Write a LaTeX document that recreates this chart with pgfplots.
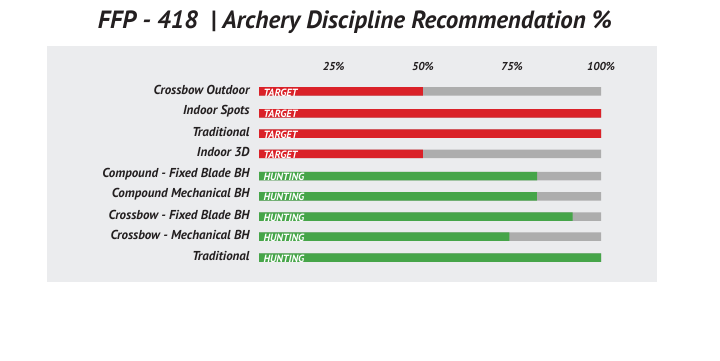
\documentclass[border=0pt]{standalone}
\usepackage{fontspec}
\setmainfont{PT Sans}
\usepackage{pgfplots}
\pgfplotsset{compat=1.18}
\definecolor{panel}{HTML}{EBECEE}
\definecolor{tred}{HTML}{DA2128}
\definecolor{hgreen}{HTML}{46A549}
\definecolor{bgray}{HTML}{ADADAD}
\definecolor{txt}{HTML}{231F20}
\begin{document}
\begin{tikzpicture}[x=1bp,y=1bp]
\path[use as bounding box,fill=white] (0,0) rectangle (720,360);
\fill[panel] (47,78) rectangle (657,314);
\node[font=\bfseries\itshape\fontsize{25}{29}\selectfont,text=txt] at (355,338) {FFP - 418\enspace| Archery Discipline Recommendation \%};
\begin{axis}[
  at={(259bp,90bp)}, anchor=south west,
  width=342bp, height=194bp, scale only axis,
  xmin=4, xmax=100, ymin=76, ymax=270, y dir=reverse,
  axis line style={draw=none}, major tick length=0pt,
  xtick={25,50,75,100}, xticklabels={25\%,50\%,75\%,100\%},
  xticklabel pos=upper,
  xticklabel style={anchor=center, yshift=10bp, font=\bfseries\itshape\fontsize{11.5}{13}\selectfont, text=txt},
  ytick={91.5,113.3,133.7,153.8,176.2,196.3,216.5,236.7,257.7},
  yticklabels={Crossbow Outdoor,Indoor Spots,Traditional,Indoor 3D,Compound - Fixed Blade BH,Compound Mechanical BH,Crossbow - Fixed Blade BH,Crossbow - Mechanical BH,Traditional},
  yticklabel style={anchor=east, xshift=-6bp, yshift=2bp, font=\bfseries\itshape\fontsize{13}{15}\selectfont, text=txt},
  xbar, bar width=8.5, bar shift=0pt, clip=true,
]
\addplot[fill=bgray, draw=none, bar shift=0pt] coordinates {(100,91.5) (100,113.3) (100,133.7) (100,153.8) (100,176.2) (100,196.3) (100,216.5) (100,236.7) (100,257.7)};
\addplot[fill=tred, draw=none, bar shift=0pt] coordinates {(50,91.5) (100,113.3) (100,133.7) (50,153.8)};
\addplot[fill=hgreen, draw=none, bar shift=0pt] coordinates {(82.1,176.2) (82,196.3) (92,216.5) (74.3,236.7) (100,257.7)};
\addplot[draw=none, mark=none, xbar=false,
  nodes near coords, point meta=explicit symbolic,
  every node near coord/.style={anchor=west, xshift=1bp, yshift=-1bp, text=white, font=\bfseries\itshape\fontsize{10.5}{12}\selectfont}]
  coordinates {(4,91.5)[TARGET] (4,113.3)[TARGET] (4,133.7)[TARGET] (4,153.8)[TARGET]
   (4,176.2)[HUNTING] (4,196.3)[HUNTING] (4,216.5)[HUNTING] (4,236.7)[HUNTING] (4,257.7)[HUNTING]};
\end{axis}
\end{tikzpicture}
\end{document}
